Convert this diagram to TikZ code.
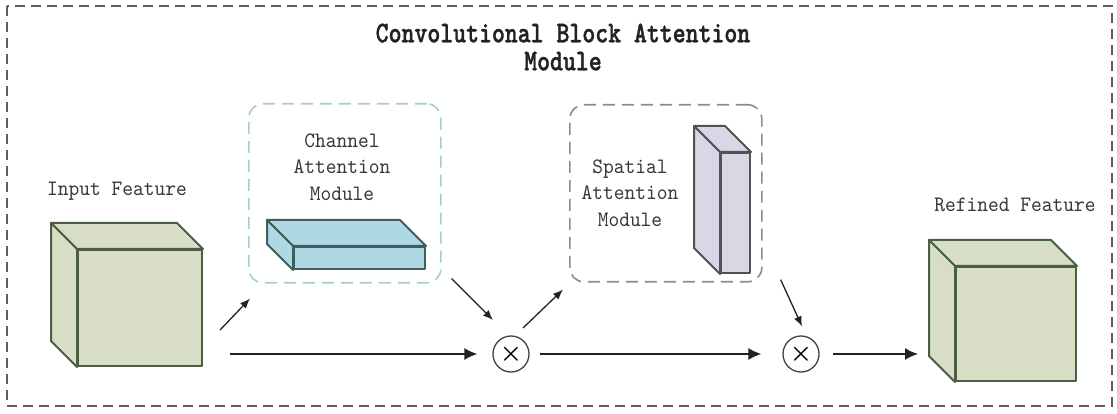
\documentclass[tikz,border=0pt]{standalone}
\usepackage{amsmath}
\usepackage{fontspec}
\usetikzlibrary{arrows.meta,calc}
\newfontfamily\labelfont{lmmono10-regular}[Extension=.otf, FakeStretch=0.93]
\newfontfamily\titlefont{lmmonolt10-bold}[Extension=.otf, FakeStretch=0.82, FakeBold=1.2]
\definecolor{framegray}{HTML}{5E5E5E}
\definecolor{cubefill}{HTML}{D8DEC6}
\definecolor{cubeline}{HTML}{4A5E46}
\definecolor{chanfill}{HTML}{AED8E4}
\definecolor{chanline}{HTML}{3F5F5A}
\definecolor{spatfill}{HTML}{DAD6E6}
\definecolor{spatline}{HTML}{4C5652}
\definecolor{chanbox}{HTML}{A6CCD4}
\definecolor{spatbox}{HTML}{8C8C8C}
\definecolor{ink}{HTML}{222222}

% top and left faces of a prism whose front face is node #1
\newcommand\prismfaces[3]{%
  \draw[line width=2pt, line join=round, draw=#3, fill=#2]
    (#1.north west) -- ++(-26,-26) -- ($(#1.north east)+(-26,-26)$)
    -- (#1.north east) -- cycle;
  \draw[line width=2pt, line join=round, draw=#3, fill=#2]
    (#1.north west) -- ++(-26,-26) -- ($(#1.south west)+(-26,-26)$)
    -- (#1.south west) -- cycle;
}

\begin{document}
\begin{tikzpicture}[x=1pt, y=-1pt,
  front/.style={draw=#1, line width=2pt, line join=round, inner sep=0pt, anchor=north west},
  modbox/.style={draw=#1, line width=1.6pt, rounded corners=14pt,
    dash pattern=on 12pt off 7pt, inner sep=0pt, anchor=north west},
  lbl/.style={font=\labelfont\fontsize{22}{26.5}\selectfont, text=ink!90, align=center, inner sep=0pt},
  mult/.style={circle, draw=ink!85, line width=1.3pt, minimum size=36pt, inner sep=0pt,
    font=\fontsize{30}{30}\selectfont},
  arr/.style={draw=ink, line width=1.5pt, -{Latex[length=13pt,width=12pt]}},
  darr/.style={draw=ink, line width=1.3pt, -{Latex[length=10pt,width=8pt]}}]
\useasboundingbox (0,0) rectangle (1117,414);
\fill[white] (0,0) rectangle (1117,414);

% outer frame
\draw[framegray, line width=2.2pt, dash pattern=on 10pt off 6pt] (7,6) rectangle (1112,406);

% title
\node[font=\titlefont\fontsize{30}{28}\selectfont, text=ink, align=center, inner sep=0pt]
  (title) at (563,47) {Convolutional Block Attention\\Module};

% module frames
\node[modbox=chanbox, minimum width=192pt, minimum height=179pt] (cam) at (248,103) {};
\node[modbox=spatbox, minimum width=192pt, minimum height=177pt] (sam) at (569,104) {};

% module captions
\node[lbl] (camtxt) at (342,167) {Channel\\Attention\\Module};
\node[lbl] (samtxt) at (630,193) {Spatial\\Attention\\Module};
\node[lbl] (intxt) at (117,191) {Input Feature};
\node[lbl] (outtxt) at (1015,205) {Refined Feature};

% feature maps and attention maps
\node[front=cubeline, fill=cubefill, minimum width=124pt, minimum height=116pt] (fin) at (77,249) {};
\prismfaces{fin}{cubefill}{cubeline}
\node[front=cubeline, fill=cubefill, minimum width=120pt, minimum height=114pt] (fout) at (955,266) {};
\prismfaces{fout}{cubefill}{cubeline}
\node[front=chanline, fill=chanfill, minimum width=131pt, minimum height=22pt] (cmap) at (293,246) {};
\prismfaces{cmap}{chanfill}{chanline}
\node[front=spatline, fill=spatfill, minimum width=29pt, minimum height=120pt] (smap) at (720,152) {};
\prismfaces{smap}{spatfill}{spatline}

% element-wise products
\node[mult] (m1) at (511,354) {$\boldsymbol{\times}$};
\node[mult] (m2) at (801,354) {$\boldsymbol{\times}$};

% main flow
\draw[arr, shorten <=27pt, shorten >=15pt] (fin.east |- m1) -- (m1.west);
\draw[arr, shorten <=10pt, shorten >=21pt] (m1.east) -- (m2.west);
\draw[arr, shorten <=13pt, shorten >=37pt] (m2.east) -- (fout.west |- m2);

% branches into and out of the attention modules
\draw[darr] ($(fin.south east)+(17,-37)$) -- ($(cam.south west)+(2,15)$);
\draw[darr] ($(cam.south east)+(10,-5)$) -- ($(m1.center)+(-18,-34)$);
\draw[darr] ($(m1.center)+(12,-26)$) -- ($(sam.south west)+(-6,7)$);
\draw[darr] ($(sam.south east)+(18,-3)$) -- ($(m2.north)+(1,-9)$);
\end{tikzpicture}
\end{document}
